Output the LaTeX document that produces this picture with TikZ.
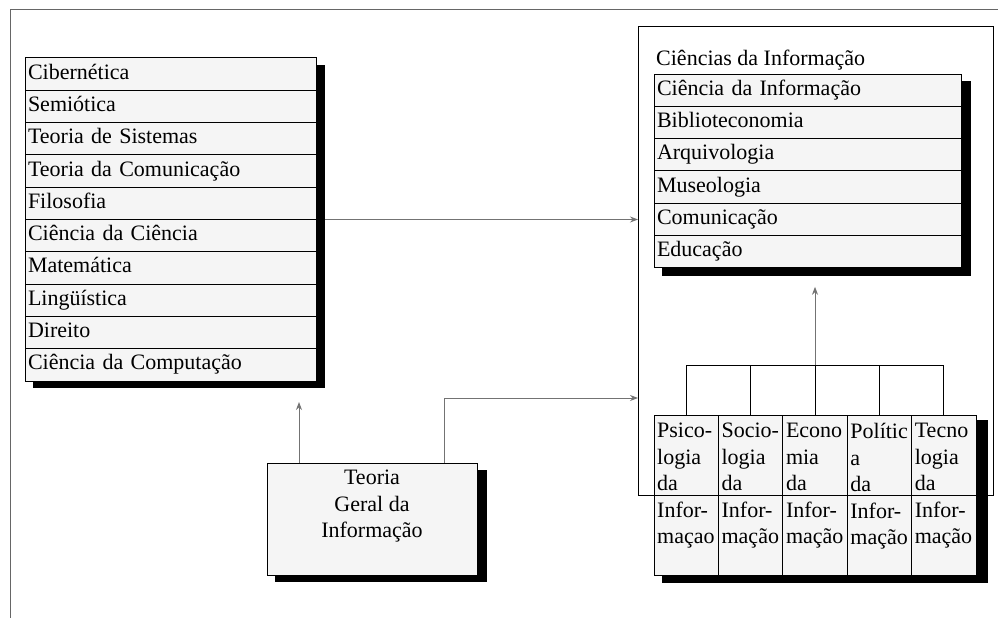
\documentclass[tikz,border=0pt]{standalone}
\usepackage{fontspec}
\setmainfont{Liberation Serif}
\usepackage{tikz}
\usetikzlibrary{positioning,calc,backgrounds,arrows.meta}

\colorlet{boxfill}{black!4}
\tikzset{
  txt/.style={font=\fontsize{22}{26.5}\selectfont},
  rowbox/.style={txt, draw, fill=boxfill, line width=1pt, anchor=north west,
    inner sep=3pt, outer sep=0pt, minimum height=32.3pt, text width=#1, align=left,
    text height=15pt, text depth=5pt},
  colbox/.style={draw, fill=boxfill, line width=1pt, anchor=north west,
    minimum width=64.4pt, minimum height=160pt, inner sep=0pt, outer sep=0pt},
  celltxt/.style={txt, anchor=north west, align=left, inner sep=2pt},
  conn/.style={black!55, line width=1pt}
}

\begin{document}
\begin{tikzpicture}[x=1pt,y=-1pt,>={Stealth[length=8pt,width=6pt]}]
  \useasboundingbox (0,0) rectangle (998,618);
  % ------- frame -------
  \draw[black!60, line width=1pt] (10,618) -- (10,10) -- (998,10);
  % ------- left list: source disciplines -------
  \node[rowbox=285pt] (cib) at (25,58) {Cibernética};
  \node[rowbox=285pt, below=0pt of cib] (sem) {Semiótica};
  \node[rowbox=285pt, below=0pt of sem] (sis) {Teoria de Sistemas};
  \node[rowbox=285pt, below=0pt of sis] (tcom) {Teoria da Comunicação};
  \node[rowbox=285pt, below=0pt of tcom] (filo) {Filosofia};
  \node[rowbox=285pt, below=0pt of filo] (cc) {Ciência da Ciência};
  \node[rowbox=285pt, below=0pt of cc] (mat) {Matemática};
  \node[rowbox=285pt, below=0pt of mat] (ling) {Lingüística};
  \node[rowbox=285pt, below=0pt of ling] (dir) {Direito};
  \node[rowbox=285pt, below=0pt of dir] (comp) {Ciência da Computação};
  % ------- right list: Ciencias da Informacao -------
  \node[rowbox=301pt] (cinf) at (654,74) {Ciência da Informação};
  \node[rowbox=301pt, below=0pt of cinf] (bib) {Biblioteconomia};
  \node[rowbox=301pt, below=0pt of bib] (arq) {Arquivologia};
  \node[rowbox=301pt, below=0pt of arq] (mus) {Museologia};
  \node[rowbox=301pt, below=0pt of mus] (com) {Comunicação};
  \node[rowbox=301pt, below=0pt of com] (edu) {Educação};
  \node[txt, anchor=south west, inner sep=2pt] (titinf) at ([yshift=2pt]cinf.north west) {Ciências da Informação};
  % ------- bottom table -------
  \node[colbox] (psi) at (654,415) {};
  \node[colbox, right=0pt of psi] (soc) {};
  \node[colbox, right=0pt of soc] (eco) {};
  \node[colbox, right=0pt of eco] (pol) {};
  \node[colbox, right=0pt of pol] (tec) {};
  \foreach \c/\t in {psi/{Psico-\\logia\\da\\Infor-\\maçao}, soc/{Socio-\\logia\\da\\Infor-\\mação},
      eco/{Econo\\mia\\da\\Infor-\\mação}, pol/{Polític\\a\\da\\Infor-\\mação}, tec/{Tecno\\logia\\da\\Infor-\\mação}}
    \node[celltxt] (\c-txt) at ([xshift=1pt,yshift=-6pt]\c.north west) {\t};
  % ------- Teoria Geral -------
  \node[colbox, minimum width=210pt, minimum height=112pt] (teo) at (267,463) {};
  \node[celltxt, anchor=north, align=center] (teo-txt) at ([yshift=-5pt]teo.north) {Teoria\\Geral da\\Informação};
  % outer box round the information sciences
  \node[draw, line width=1pt, anchor=north west, inner sep=0pt, outer sep=0pt,
    minimum width=355pt, minimum height=468pt] (infobox) at (638,27) {};
  % shadows
  \begin{scope}[on background layer]
    \fill ($(cib.north west)+(8,7)$) rectangle ($(comp.south east)+(9,7)$);
    \fill ($(cinf.north west)+(8,7)$) rectangle ($(edu.south east)+(10,8)$);
    \fill ($(psi.north west)+(8,5)$) rectangle ($(tec.south east)+(12,8)$);
    \fill ($(teo.north west)+(8,7)$) rectangle ($(teo.south east)+(10,7)$);
  \end{scope}
  % connectors
  \draw[conn, ->] ([xshift=9pt]filo.south east) -- (filo.south east -| infobox.west);
  \coordinate (tl) at ([xshift=32pt]teo.north west);
  \draw[conn, ->, shorten >=21pt] (tl) -- (tl |- comp.south);
  \coordinate (tr) at ([xshift=-33pt]teo.north east);
  \draw[conn, ->] (tr) |- ([yshift=97pt]infobox.south west);
  \coordinate (bus) at ([yshift=50pt]eco.north);
  \draw[line width=1pt] (psi.north |- bus) -- (tec.north |- bus);
  \foreach \c in {psi,soc,eco,pol,tec}
    \draw[line width=1pt] (\c.north) -- (\c.north |- bus);
  \draw[conn, ->, shorten >=19pt] (bus) -- (bus |- edu.south);
\end{tikzpicture}
\end{document}
